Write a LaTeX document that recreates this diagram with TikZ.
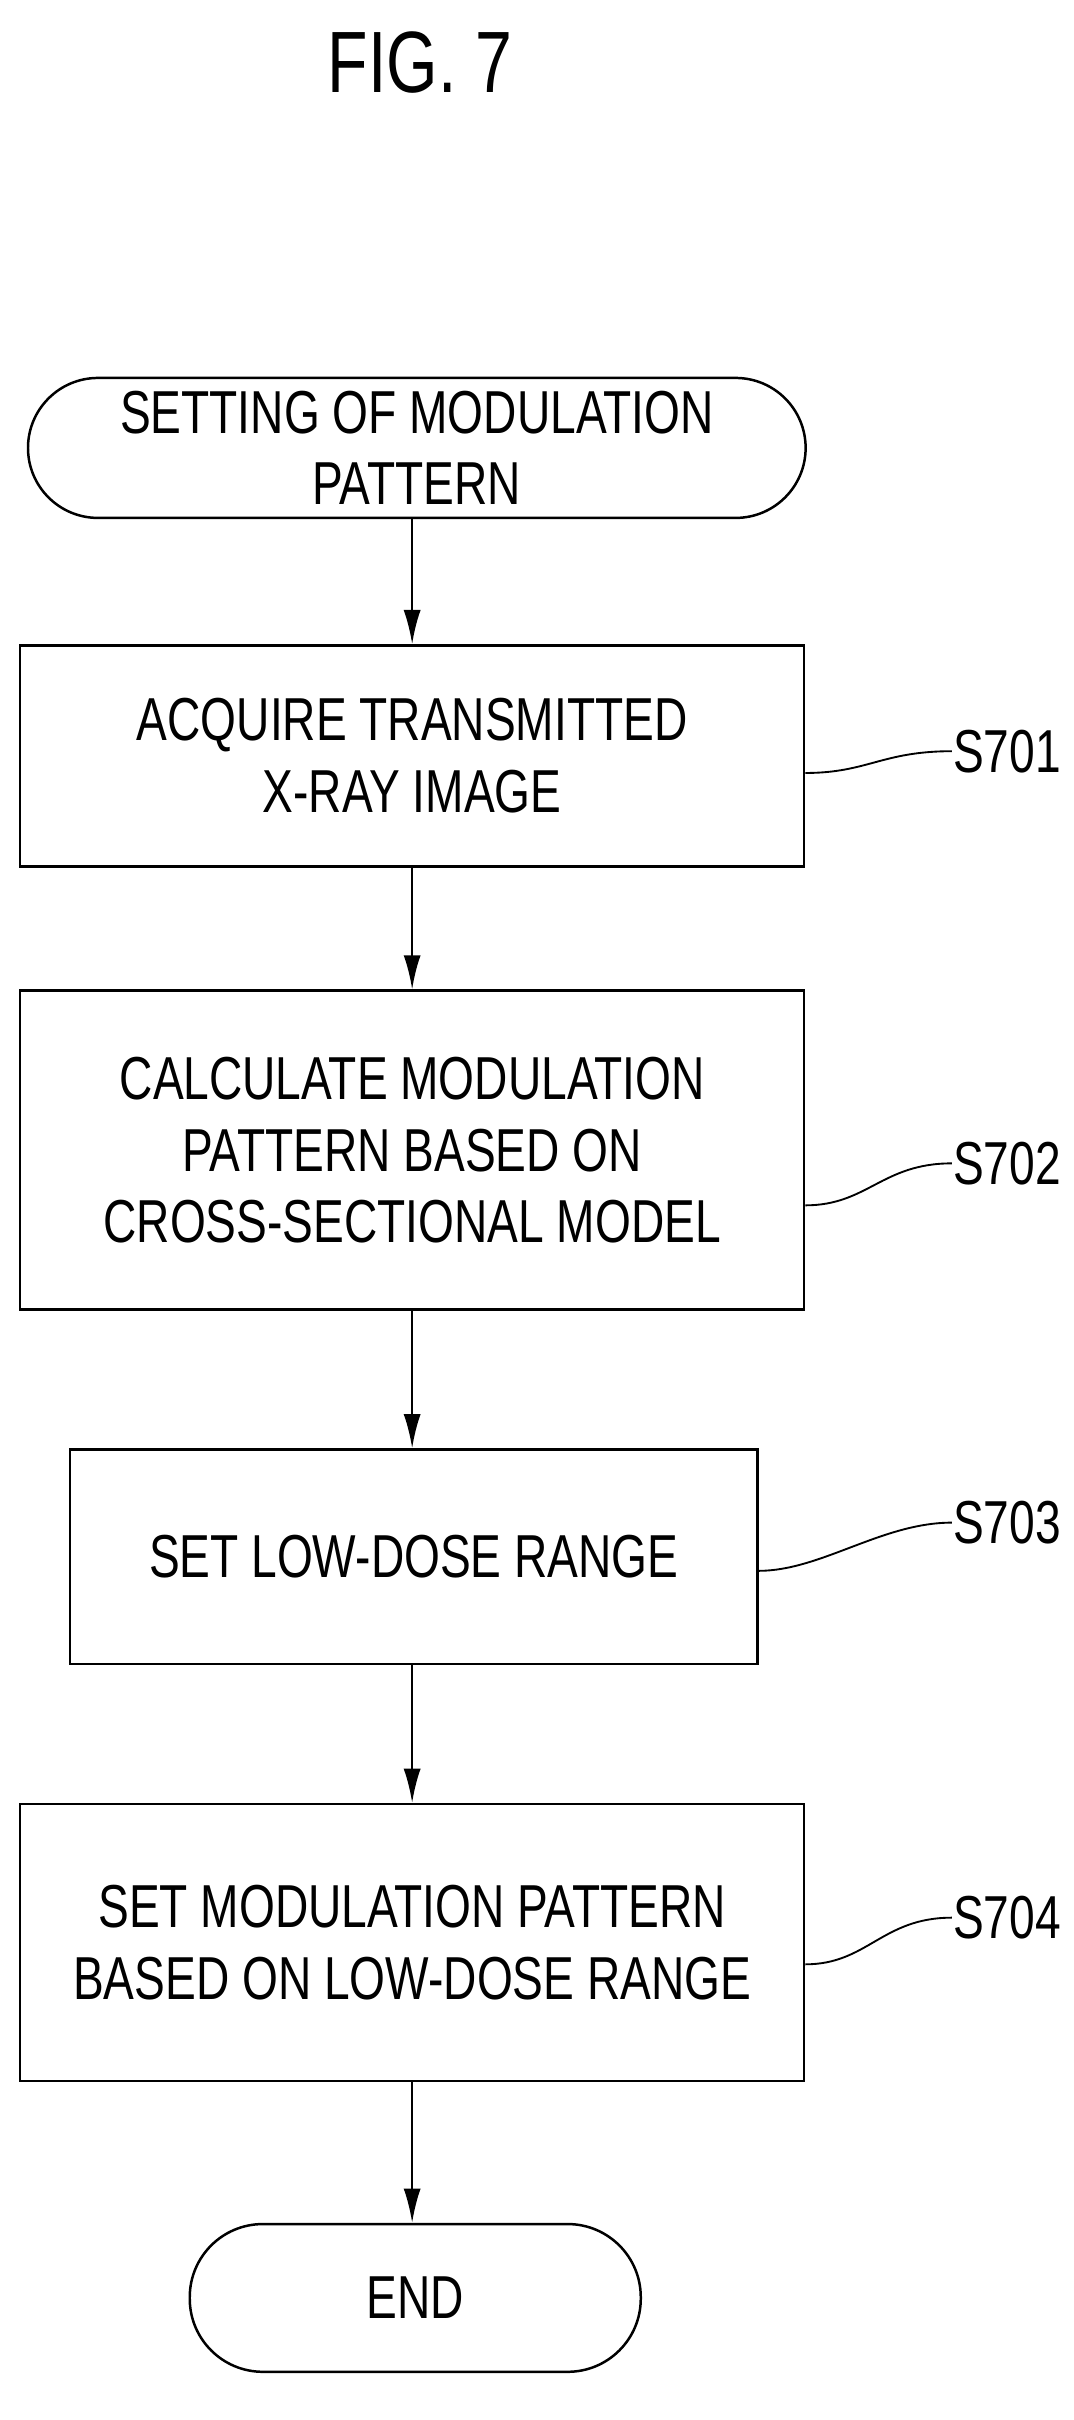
\documentclass[tikz,border=0pt]{standalone}
\usepackage{fontspec}
\setmainfont{Liberation Sans}[FakeStretch=0.76]
\usetikzlibrary{arrows.meta,calc}
\begin{document}
\begin{tikzpicture}[x=1pt,y=-1pt,line width=1.6pt,
  box/.style={draw,rectangle,align=center,font=\fontsize{39}{46}\selectfont,inner sep=0pt},
  term/.style={draw,rounded corners=45pt,align=center,font=\fontsize{39}{46}\selectfont,inner sep=0pt},
  arr/.style={-{Latex[length=22pt,width=11pt]}},
  lab/.style={font=\fontsize{39}{46}\selectfont,anchor=west,inner sep=0pt},
  lead/.style={line width=1.2pt}]
\useasboundingbox (0,0) rectangle (690,1556);
\node[font=\fontsize{56}{60}\selectfont] (title) at (270,40) {FIG. 7};
\node[term,minimum width=500pt,minimum height=90pt] (t0) at (268,288) {SETTING OF MODULATION\\PATTERN};
\node[box,minimum width=504pt,minimum height=142pt] (b1) at (265,486) {ACQUIRE TRANSMITTED\\X-RAY IMAGE};
\node[box,minimum width=504pt,minimum height=205pt] (b2) at (265,739.5) {CALCULATE MODULATION\\PATTERN BASED ON\\CROSS-SECTIONAL MODEL};
\node[box,minimum width=442pt,minimum height=138pt] (b3) at (266,1001) {SET LOW-DOSE RANGE};
\node[box,minimum width=504pt,minimum height=178pt] (b4) at (265,1249) {SET MODULATION PATTERN\\BASED ON LOW-DOSE RANGE};
\node[term,minimum width=290pt,minimum height=95pt,rounded corners=47pt] (t1) at (267,1477.5) {END};
\draw[arr] (t0.south -| b1.north) -- (b1.north);
\draw[arr] (b1) -- (b2);
\draw[arr] (b2.south) -- (b3.north -| b2.south);
\draw[arr] (b3.south -| b4.north) -- (b4.north);
\draw[arr] (b4.south) -- (t1.north -| b4.south);
\foreach \b/\s/\ly/\sy in {b1/S701/497/483, b2/S702/775/748, b3/S703/1010/979, b4/S704/1263/1233}{
  \node[lab] (l\s) at (612,\sy) {\s};
  \coordinate (y\s) at (0,\ly);
  \coordinate (c\s) at (\b.east |- y\s);
  \draw[lead] (c\s) .. controls ($(c\s)+(40,0)$) and ($(l\s.west)+(-45,0)$) .. (l\s.west);
}
\end{tikzpicture}
\end{document}
